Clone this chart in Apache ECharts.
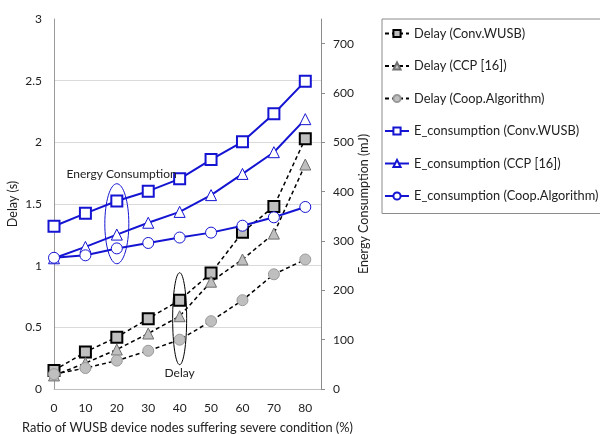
<!DOCTYPE html>
<html><head><meta charset="utf-8">
<script src="https://cdn.jsdelivr.net/npm/echarts@6/dist/echarts.min.js"></script>
<style>html,body{margin:0;padding:0;background:#fff}#c{width:600px;height:434px}</style>
</head><body><div id="c"></div>
<script>
const xValues = [0, 10, 20, 30, 40, 50, 60, 70, 80];
const delayConv = [0.15, 0.30, 0.42, 0.57, 0.72, 0.94, 1.27, 1.48, 2.03];
const delayCCP  = [0.11, 0.21, 0.32, 0.45, 0.59, 0.87, 1.05, 1.26, 1.82];
const delayCoop = [0.12, 0.17, 0.23, 0.31, 0.40, 0.55, 0.72, 0.93, 1.05];
const energyConv = [330, 356, 381, 401, 426, 465, 501, 558, 624];
const energyCCP  = [265, 288, 313, 337, 359, 393, 436, 480, 547];
const energyCoop = [266, 271, 285, 296, 307, 317, 331, 348, 369];
const seriesNames = ['Delay (Conv.WUSB)', 'Delay (CCP [16])', 'Delay (Coop.Algorithm)',
  'E_consumption (Conv.WUSB)', 'E_consumption (CCP [16])', 'E_consumption (Coop.Algorithm)'];

const FONT = 'Lato';
const BLUE = '#1414d2';
const pair = arr => arr.map((v, i) => [xValues[i], v]);

function delaySeries(name, data, symbol, size, border, bw) {
  return {
    name, type: 'line', yAxisIndex: 0, data: pair(data),
    symbol, symbolSize: size,
    lineStyle: { color: '#000', width: 1.5, type: [4, 3] },
    itemStyle: { color: '#bfbfbf', borderColor: border, borderWidth: bw },
    z: 2
  };
}
function energySeries(name, data, symbol, size, bw) {
  return {
    name, type: 'line', yAxisIndex: 1, data: pair(data),
    symbol, symbolSize: size,
    lineStyle: { color: BLUE, width: 2 },
    itemStyle: { color: '#fff', borderColor: BLUE, borderWidth: bw },
    z: 3
  };
}

const chart = echarts.init(document.getElementById('c'));
chart.setOption({
  animation: false,
  textStyle: { fontFamily: FONT },
  grid: { left: 54, right: 279, top: 19, bottom: 45, outerBoundsMode: 'none', containLabel: false },
  legend: {
    orient: 'vertical', left: 382, top: 19,
    padding: [8, 40, 11, 2],
    borderColor: '#8c8c8c', borderWidth: 1,
    itemWidth: 24, itemHeight: 9, itemGap: 19.5,
    textStyle: { fontFamily: FONT, fontSize: 12.8, color: '#222' },
    data: seriesNames
  },
  xAxis: {
    type: 'value', min: 0, max: 85, interval: 10,
    name: 'Ratio of WUSB device nodes suffering severe condition (%)',
    nameLocation: 'middle', nameGap: 32,
    nameTextStyle: { fontFamily: FONT, fontSize: 12.8, color: '#222' },
    axisLine: { lineStyle: { color: '#bfbfbf' } },
    axisTick: { show: false },
    splitLine: { show: false },
    axisLabel: { fontFamily: FONT, fontSize: 12, color: '#222', margin: 13, showMaxLabel: false }
  },
  yAxis: [{
    type: 'value', min: 0, max: 3, interval: 0.5, position: 'left',
    name: 'Delay (s)', nameLocation: 'middle', nameGap: 35,
    nameTextStyle: { fontFamily: FONT, fontSize: 12.5, color: '#222' },
    axisLine: { show: true, lineStyle: { color: '#9a9a9a' } },
    axisTick: { show: false },
    splitLine: { show: true, showMaxLine: false, lineStyle: { color: '#dadada' } },
    axisLabel: { fontFamily: FONT, fontSize: 12, color: '#222', margin: 12 }
  }, {
    type: 'value', min: 0, max: 750, interval: 100, position: 'right',
    name: 'Energy Consumption (mJ)', nameLocation: 'middle', nameGap: 34,
    nameTextStyle: { fontFamily: FONT, fontSize: 12.5, color: '#222' },
    axisLine: { show: true, lineStyle: { color: '#8c8c8c' } },
    axisTick: { show: true, inside: false, length: 4, lineStyle: { color: '#8c8c8c' } },
    splitLine: { show: false },
    axisLabel: { fontFamily: FONT, fontSize: 12, color: '#222', margin: 12, showMaxLabel: false }
  }],
  series: [
    delaySeries(seriesNames[0], delayConv, 'rect', 11, '#000', 2),
    delaySeries(seriesNames[1], delayCCP, 'triangle', 11, '#6f6f6f', 1),
    delaySeries(seriesNames[2], delayCoop, 'circle', 11, '#999', 1),
    energySeries(seriesNames[3], energyConv, 'rect', 11, 2),
    energySeries(seriesNames[4], energyCCP, 'triangle', 11, 1),
    energySeries(seriesNames[5], energyCoop, 'circle', 11, 1)
  ]
});

// Annotation ellipses and labels, anchored in data coordinates
const eC = chart.convertToPixel({ xAxisIndex: 0, yAxisIndex: 1 }, [20, 335]);
const dC = chart.convertToPixel({ xAxisIndex: 0, yAxisIndex: 0 }, [40, 0.57]);
const eT = chart.convertToPixel({ xAxisIndex: 0, yAxisIndex: 1 }, [21.5, 435]);
const dT = chart.convertToPixel({ xAxisIndex: 0, yAxisIndex: 0 }, [40, 0.13]);
chart.setOption({
  graphic: [
    { type: 'ellipse', shape: { cx: eC[0], cy: eC[1], rx: 12, ry: 40 },
      style: { fill: 'none', stroke: BLUE, lineWidth: 1 }, z: 10 },
    { type: 'ellipse', shape: { cx: dC[0], cy: dC[1], rx: 7, ry: 46 },
      style: { fill: 'none', stroke: '#000', lineWidth: 1 }, z: 10 },
    { type: 'text', x: eT[0], y: eT[1],
      style: { text: 'Energy Consumption', font: '12px ' + FONT, fill: '#222', align: 'center', verticalAlign: 'middle' }, z: 10 },
    { type: 'text', x: dT[0], y: dT[1],
      style: { text: 'Delay', font: '12px ' + FONT, fill: '#222', align: 'center', verticalAlign: 'middle' }, z: 10 }
  ]
});
</script>
</body></html>
